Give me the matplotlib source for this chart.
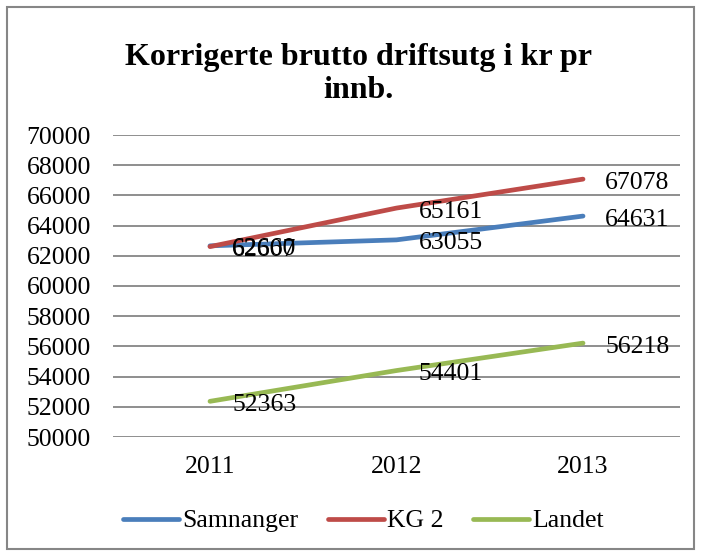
import matplotlib
matplotlib.use("Agg")
import matplotlib.pyplot as plt
from matplotlib.patches import Rectangle

# ---- data ----
years = ["2011", "2012", "2013"]
samnanger = [62660, 63055, 64631]
kg2 = [62607, 65161, 67078]
landet = [52363, 54401, 56218]
series_names = ["Samnanger", "KG 2", "Landet"]
y_ticks = list(range(50000, 70001, 2000))

colors = ["#4A7EBB", "#BE4B48", "#98B954"]
grid_col = "#868686"

plt.rcParams["font.family"] = ["Liberation Serif", "DejaVu Serif"]

fig = plt.figure(figsize=(7.01, 5.56), dpi=100)
ax = fig.add_axes([113 / 701, 1 - 437 / 556, 567 / 701, 302 / 556])

xs = list(range(len(years)))
for vals, name, col in zip([samnanger, kg2, landet], series_names, colors):
    ax.plot(xs, vals, color=col, lw=3.4, solid_capstyle="round", label=name, zorder=3)
    # data labels to the right of each point
    for x, v in zip(xs, vals):
        ax.annotate(str(v), (x, v), xytext=(16, -2.5), textcoords="offset points",
                    ha="left", va="center", fontsize=18.5, color="black", zorder=4)

ax.set_xlim(-0.52, 2.52)
ax.set_ylim(50000, 70000)
ax.set_yticks(y_ticks)
ax.set_xticks(xs)
ax.set_xticklabels(years)
ax.yaxis.grid(True, color=grid_col, lw=1.3)
ax.set_axisbelow(True)
ax.tick_params(axis="both", length=0, labelsize=18.5)
ax.tick_params(axis="y", pad=16)
ax.tick_params(axis="x", pad=14)
for s in ax.spines.values():
    s.set_visible(False)

fig.text(0.511, 1 - 74 / 556, "Korrigerte brutto driftsutg i kr pr\ninnb.",
         ha="center", va="center", fontsize=23, fontweight="bold", linespacing=1.2)

fig.legend(loc="center", bbox_to_anchor=(0.518, 1 - 521 / 556), ncol=3, frameon=False,
           fontsize=18.5, handlelength=2.2, handletextpad=0.1, columnspacing=1.15)

# chart border
fig.add_artist(Rectangle((7 / 701, 7 / 556), 687 / 701, 542 / 556, transform=fig.transFigure,
                         fill=False, edgecolor=grid_col, lw=1.5))

fig.savefig("out.png", dpi=100)
